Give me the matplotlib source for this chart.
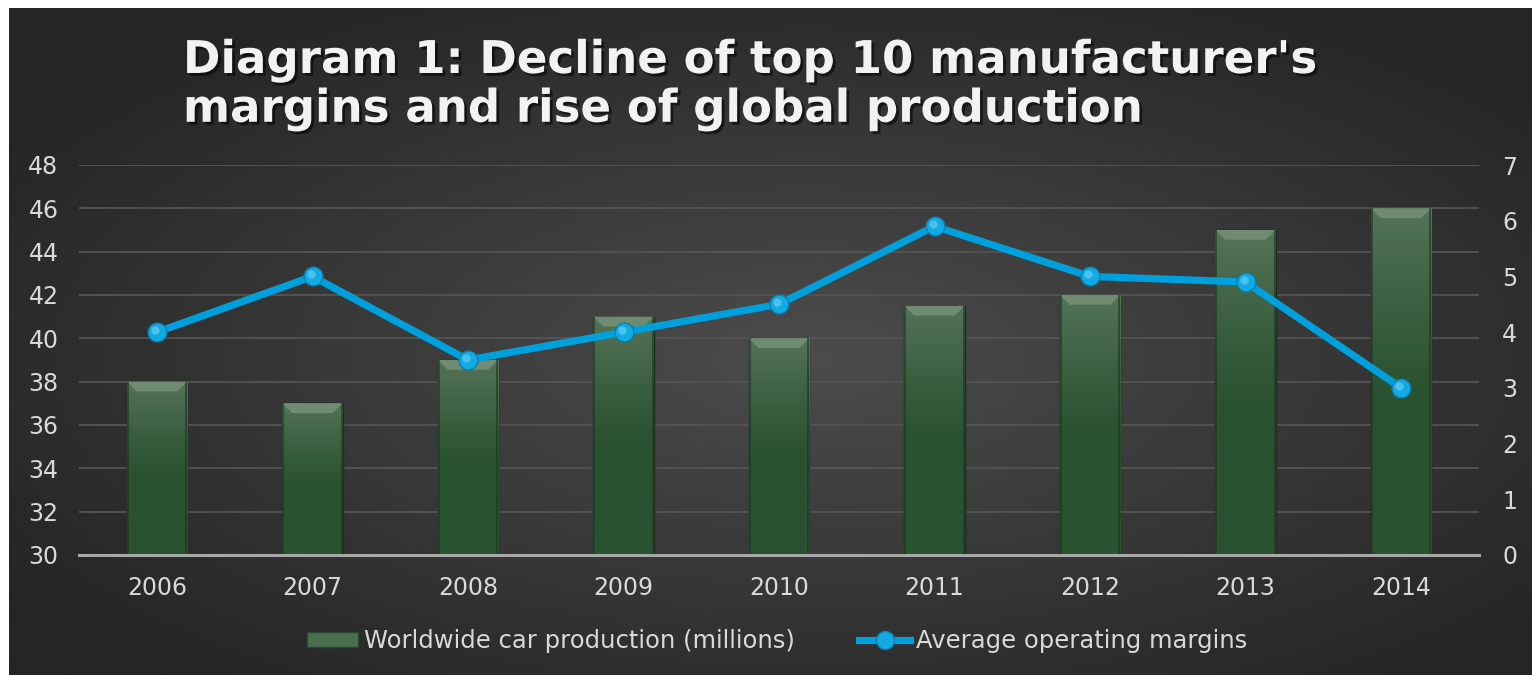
import numpy as np
import matplotlib
matplotlib.use("Agg")
import matplotlib.pyplot as plt
from matplotlib.patches import Rectangle, Polygon
from matplotlib.lines import Line2D
import matplotlib.patheffects as pe
import matplotlib.transforms as mtransforms

# ---- data ----
years = ["2006", "2007", "2008", "2009", "2010", "2011", "2012", "2013", "2014"]
production = [38, 37, 39, 41, 40, 41.5, 42, 45, 46]
margins = [4, 5, 3.5, 4, 4.5, 5.9, 5, 4.9, 3]
left_ticks = [30, 32, 34, 36, 38, 40, 42, 44, 46, 48]
right_ticks = [0, 1, 2, 3, 4, 5, 6, 7]
title = "Diagram 1: Decline of top 10 manufacturer's\nmargins and rise of global production"
bar_label = "Worldwide car production (millions)"
line_label = "Average operating margins"

W, H = 1532, 675
fig = plt.figure(figsize=(W / 100, H / 100), dpi=100, facecolor="white")

# ---- background with radial gradient ----
bg = fig.add_axes([9 / W, 0, (W - 9) / W, (H - 8) / H], zorder=-10)
bg.set_axis_off()
gx, gy = np.meshgrid(np.linspace(-1, 1, 400), np.linspace(-1, 1, 200))
r = np.sqrt(((gx - 0.05) / 1.0) ** 2 + ((gy + 0.05) / 1.0) ** 2)
r = np.clip(r / 1.25, 0, 1)
c_in = np.array([0x4c, 0x4c, 0x4c]) / 255
c_out = np.array([0x25, 0x25, 0x25]) / 255
img = c_in[None, None, :] * (1 - r[..., None]) + c_out[None, None, :] * r[..., None]
bg.imshow(img, extent=[0, 1, 0, 1], aspect="auto", origin="lower", interpolation="bicubic")
bg.set_xlim(0, 1)
bg.set_ylim(0, 1)

# ---- main axes ----
ax = fig.add_axes([79.25 / W, (H - 555) / H, (1478.75 - 79.25) / W, (555 - 165) / H])
ax.patch.set_alpha(0)
x = np.arange(len(years))
ax.set_xlim(-0.5, len(years) - 0.5)
ax.set_ylim(30, 48)
ax.set_yticks(left_ticks)
ax.set_xticks(x)
ax.set_xticklabels(years)
ax.yaxis.grid(True, color="#545454", lw=1.3, zorder=0)
ax.set_axisbelow(True)
for s in ["top", "left", "right"]:
    ax.spines[s].set_visible(False)
ax.spines["bottom"].set_color("#a8a8a8")
ax.spines["bottom"].set_linewidth(2.2)
ax.spines["bottom"].set_zorder(5)
tick_col = "#d9d9d9"
ax.tick_params(axis="y", length=0, pad=15, labelsize=17, labelcolor=tick_col)
ax.tick_params(axis="x", length=0, pad=15, labelsize=17, labelcolor=tick_col)

bw = 0.39
bars = ax.bar(x, [p - 30 for p in production], bottom=30, width=bw,
              color="#335c3a", edgecolor="#1b2f1e", lw=1.0, zorder=2)
grad = np.linspace(0, 1, 256)
top_c = np.array([0x55, 0x73, 0x58]) / 255
bot_c = np.array([0x29, 0x52, 0x30]) / 255
t = np.clip((grad - 0.45) / 0.55, 0, 1) ** 1.2
gimg = np.empty((256, 1, 3))
for i in range(3):
    gimg[:, 0, i] = bot_c[i] + (top_c[i] - bot_c[i]) * t
for b, xi, v in zip(bars, x, production):
    im = ax.imshow(gimg, extent=[xi - bw / 2, xi + bw / 2, 30, v], origin="lower",
                   aspect="auto", zorder=2.1, interpolation="bilinear")
    im.set_clip_path(b)
    # bevel at top
    bh = 0.45
    bi = 0.065
    bev = Polygon([[xi - bw / 2, v], [xi + bw / 2, v], [xi + bw / 2 - bi, v - bh],
                   [xi - bw / 2 + bi, v - bh]], closed=True, facecolor="#6f8b72",
                  edgecolor="none", zorder=2.2)
    ax.add_patch(bev)
    # dark side edges
    ax.add_patch(Rectangle((xi - bw / 2, 30), 0.014, v - 30, facecolor="#1c3420",
                           alpha=0.6, edgecolor="none", zorder=2.3))
    ax.add_patch(Rectangle((xi + bw / 2 - 0.014, 30), 0.014, v - 30, facecolor="#1c3420",
                           alpha=0.6, edgecolor="none", zorder=2.3))
ax.set_xlim(-0.5, len(years) - 0.5)
ax.set_ylim(30, 48)
ax.set_aspect("auto")

ax2 = ax.twinx()
ax2.set_ylim(0, 7)
ax2.set_yticks(right_ticks)
for s in ["top", "left", "right", "bottom"]:
    ax2.spines[s].set_visible(False)
ax2.tick_params(axis="y", length=0, pad=17, labelsize=17, labelcolor=tick_col)
line_col = "#00a0dc"
ax2.plot(x, margins, color=line_col, lw=5.2, solid_capstyle="round", zorder=3)
ax2.plot(x, margins, ls="none", marker="o", ms=13.5, mfc="#13a9e3",
         mec="#0b7fae", mew=1.0, zorder=4)
hl = mtransforms.offset_copy(ax2.transData, fig=fig, x=-2.0, y=2.0, units="dots")
ax2.plot(x, margins, ls="none", marker="o", ms=6, mfc="#6fd3f7", mec="none",
         alpha=0.6, transform=hl, zorder=5)

# ---- title ----
fig.text(183 / W, 1 - 39 / H, title, ha="left", va="top", fontsize=32.5,
         fontweight="bold", color="#f2f2f2", linespacing=1.17,
         path_effects=[pe.withSimplePatchShadow(offset=(2, -2), shadow_rgbFace="black",
                                                alpha=0.55)])

# ---- legend ----
h_bar = Rectangle((0, 0), 1, 1, facecolor="#4a6e4e", edgecolor="#2a4a2f")
h_line = Line2D([], [], color=line_col, lw=5.2, marker="o", ms=13, mfc="#13a9e3",
                mec="#0b7fae")
leg = fig.legend([h_bar, h_line], [bar_label, line_label], loc="center",
                 bbox_to_anchor=(777 / W, (H - 641) / H), ncol=2, frameon=False,
                 fontsize=17.5, labelcolor=tick_col, handlelength=2.1,
                 handleheight=0.6, handletextpad=0.25, columnspacing=2.65)

fig.savefig("out.png", dpi=100, facecolor="white")
